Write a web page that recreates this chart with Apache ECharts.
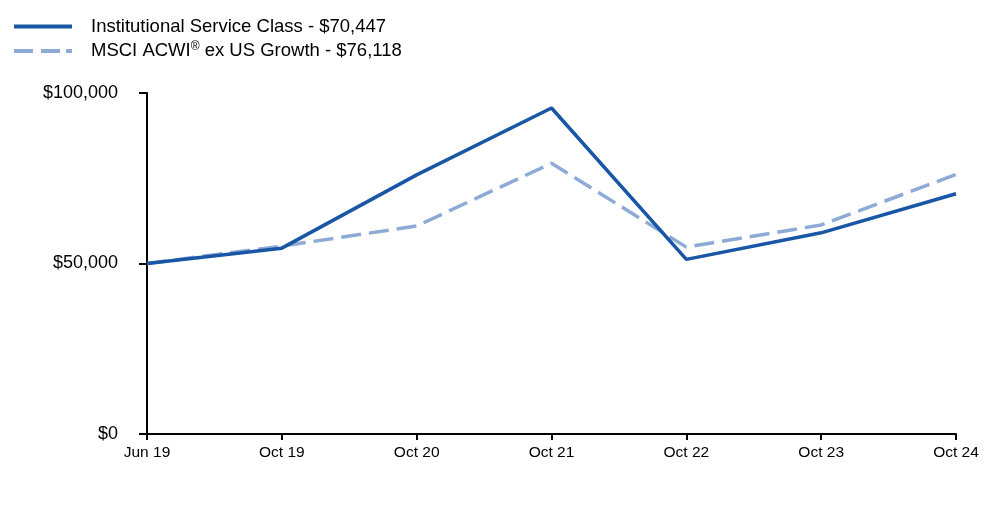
<!DOCTYPE html>
<html><head><meta charset="utf-8">
<script src="https://cdn.jsdelivr.net/npm/echarts@6/dist/echarts.min.js"></script>
<style>html,body{margin:0;padding:0;background:#fff}#c{width:1000px;height:523px}</style>
</head><body><div id="c"></div>
<script>
const categories = ['Jun 19','Oct 19','Oct 20','Oct 21','Oct 22','Oct 23','Oct 24'];
const fundName = 'Institutional Service Class - $70,447';
const indexName = 'MSCI ACWI® ex US Growth - $76,118';
const fundValues = [50000, 54500, 76000, 95600, 51200, 59000, 70447];
const indexValues = [50000, 55100, 61000, 79400, 54800, 61300, 76118];

const chart = echarts.init(document.getElementById('c'));
chart.setOption({
  animation: false,
  textStyle: {fontFamily: 'Liberation Sans, Arial, sans-serif'},
  legend: {
    orient: 'vertical', left: 9, top: 12, itemWidth: 58, itemHeight: 4, itemGap: 5,
    textStyle: {fontSize: 18.5, color: '#000', padding: [0,0,0,14],
      rich: {sup: {fontSize: 12, verticalAlign: 'top', padding: [0,0,8,0], color:'#000'}, n:{fontSize:18.5,color:'#000'}}},
    formatter: function(n){ return n.indexOf('®')>=0 ? '{n|'+n.split('®')[0]+'}{sup|®}{n|'+n.split('®')[1]+'}' : n; },
    data: [
      {name: fundName, icon: 'path://M0,0H58V4H0Z'},
      {name: indexName, icon: 'path://M0,0H19V4H0Z M27,0H46V4H27Z M52,0H58V4H52Z'}
    ]
  },
  grid: {left: 147, right: 44, top: 93, bottom: 89, containLabel: false},
  xAxis: {
    type: 'category', data: categories, boundaryGap: false,
    axisLine: {lineStyle: {color: '#000', width: 2}},
    axisTick: {show: true, length: 6, lineStyle: {color:'#000', width: 2}},
    axisLabel: {color: '#000', fontSize: 15.5, margin: 11}
  },
  yAxis: {
    type: 'value', min: 0, max: 100000, interval: 50000,
    axisLine: {show: true, lineStyle: {color: '#000', width: 2}},
    axisTick: {show: true, length: 8, lineStyle: {color:'#000', width: 2}},
    splitLine: {show: false},
    axisLabel: {color: '#000', fontSize: 18, margin: 29,
      formatter: v => '$' + v.toLocaleString('en-US')}
  },
  series: [
    {name: fundName, type: 'line', data: fundValues, symbol: 'none',
     lineStyle: {color: '#1957a6', width: 3.5}, itemStyle: {color: '#1957a6'}, z: 3},
    {name: indexName, type: 'line', data: indexValues, symbol: 'none',
     lineStyle: {color: '#8eaad6', width: 3.5, type: [20, 8]}, itemStyle: {color: '#8eaad6'}, z: 2}
  ]
});
</script></body></html>
